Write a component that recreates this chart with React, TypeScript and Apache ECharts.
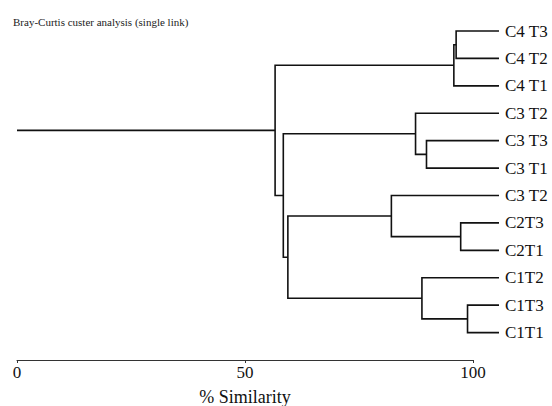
import React, { useEffect, useRef } from "react";
import * as echarts from "echarts";

const titleText = "Bray-Curtis custer analysis (single link)";
const axisName = "% Similarity";
const leafLabels = ["C4 T3", "C4 T2", "C4 T1", "C3 T2", "C3 T3", "C3 T1", "C3 T2", "C2T3", "C2T1", "C1T2", "C1T3", "C1T1"];
// linkage: ids < 12 are leaves, ids >= 12 are earlier merges (id - 12)
const mergeChildren: [number, number][] = [
  [0, 1],
  [12, 2],
  [4, 5],
  [3, 14],
  [7, 8],
  [6, 16],
  [10, 11],
  [9, 18],
  [17, 19],
  [15, 20],
  [13, 21],
];
const mergeSimilarity = [96.3, 95.8, 89.8, 87.4, 97.3, 82.1, 98.8, 88.8, 59.4, 58.4, 56.6];
const leafSimilarity = 105.7;
const rootSimilarity = 0;
const xTicks = [0, 50, 100];

const FONT = "'Liberation Serif', 'Times New Roman', serif";

function buildLinks() {
  const n = leafLabels.length;
  const nodePos: [number, number][] = [];
  const pos = (id: number): [number, number] => {
    if (id < n) return [leafSimilarity, id];
    return nodePos[id - n];
  };
  const links: number[][] = [];
  mergeChildren.forEach(([a, b], i) => {
    const pa = pos(a);
    const pb = pos(b);
    const h = mergeSimilarity[i];
    nodePos.push([h, (pa[1] + pb[1]) / 2]);
    links.push([pa[0], pa[1], h, pb[1], pb[0]]);
  });
  const root = nodePos[nodePos.length - 1];
  links.push([root[0], root[1], rootSimilarity, root[1], rootSimilarity]);
  return links;
}

export default function App() {
  const ref = useRef<HTMLDivElement>(null);
  useEffect(() => {
    if (!ref.current) return;
    const chart = echarts.init(ref.current, null, { renderer: "svg" });
    const links = buildLinks();
    const leafData = leafLabels.map((name, i) => [leafSimilarity, i, name]);
    chart.setOption({
      animation: false,
      backgroundColor: "#fff",
      textStyle: { fontFamily: FONT },
      title: {
        text: titleText,
        left: 8,
        top: 11,
        textStyle: { fontFamily: FONT, fontSize: 11, fontWeight: "normal", color: "#222" },
      },
      grid: { left: 17, right: 79, top: 17.3, bottom: 46, containLabel: false, outerBoundsMode: "none" },
      xAxis: {
        type: "value",
        position: "bottom",
        min: xTicks[0],
        max: xTicks[xTicks.length - 1],
        interval: 50,
        name: axisName,
        nameLocation: "middle",
        nameGap: 28,
        nameTextStyle: { fontFamily: FONT, fontSize: 18, color: "#111" },
        axisLine: { show: true, onZero: false, lineStyle: { color: "#333", width: 1 } },
        axisTick: { show: true, length: 3, lineStyle: { color: "#333" } },
        axisLabel: { fontFamily: FONT, fontSize: 17, color: "#111", margin: 4 },
        splitLine: { show: false },
      },
      yAxis: { type: "value", inverse: true, min: -0.5, max: 12, show: false },
      series: [
        {
          type: "custom",
          clip: false,
          data: links,
          renderItem: (params: any, api: any) => {
            const p1 = api.coord([api.value(0), api.value(1)]);
            const p2 = api.coord([api.value(2), api.value(1)]);
            const p3 = api.coord([api.value(2), api.value(3)]);
            const p4 = api.coord([api.value(4), api.value(3)]);
            return {
              type: "polyline",
              shape: { points: [p1, p2, p3, p4] },
              style: { stroke: "#111", lineWidth: 1.6, fill: "none" },
            };
          },
        },
        {
          type: "custom",
          clip: false,
          data: leafData,
          renderItem: (params: any, api: any) => {
            const p = api.coord([api.value(0), api.value(1)]);
            return {
              type: "text",
              x: p[0] + 6,
              y: p[1],
              style: {
                text: leafLabels[params.dataIndex],
                fontFamily: FONT,
                fontSize: 17,
                fill: "#111",
                verticalAlign: "middle",
                align: "left",
              },
            };
          },
        },
      ],
    });
    return () => chart.dispose();
  }, []);
  return <div ref={ref} style={{ position: "fixed", left: 0, top: 0, width: 552, height: 406 }} />;
}
